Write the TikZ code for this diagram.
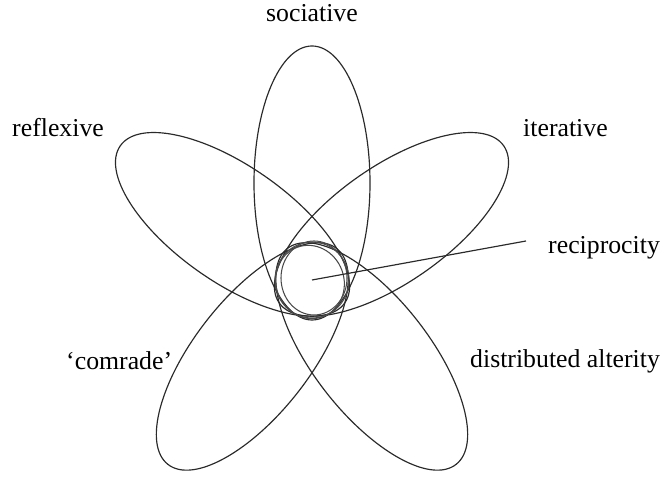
\documentclass[tikz,border=0pt]{standalone}
\usepackage{fontspec}
\setmainfont{Liberation Serif}
\usepackage{tikz}
\usetikzlibrary{positioning, calc}
\definecolor{mink}{HTML}{2A2A2A}
\tikzset{
  petal/.style={draw=mink, line width=1pt},
  core/.style={draw=mink!85, line width=0.9pt},
  lbl/.style={anchor=base west, inner sep=0pt, text=black,
              font=\fontsize{22}{26}\selectfont},
  arr/.style={-, line width=1pt, mink},
}

\begin{document}
\begin{tikzpicture}[x=0.03cm, y=0.03cm]
  \useasboundingbox (0,0) rectangle (663,481);
  \coordinate (ctr) at (312,201);

  % five petals round the centre
  \foreach \ang in {90,35,145,-52,-128} {
    \begin{scope}[shift={(312,201)}, rotate=\ang]
      \draw[petal] (97,0) ellipse [x radius=137, y radius=58];
    \end{scope}
  }

  % reciprocity core
  \draw[core] (312,201) ellipse [x radius=37, y radius=38];
  \draw[core] (314,203) ellipse [x radius=33, y radius=37];
  \draw[core, rotate around={20:(310,199)}] (310,199) ellipse [x radius=34, y radius=37];

  \node[lbl, anchor=base] (soc) at (312,459) {sociative};
  \node[lbl] (refl) at (12,344) {reflexive};
  \node[lbl] (iter) at (523,344) {iterative};
  \node[lbl] (recip) at (548,227) {reciprocity};
  \node[lbl] (comr) at (66,111) {`comrade'};
  \node[lbl] (dist) at (470,113) {distributed alterity};

  \coordinate (tip) at (526,240);
  \draw[arr] (ctr) -- (tip);
\end{tikzpicture}
\end{document}
